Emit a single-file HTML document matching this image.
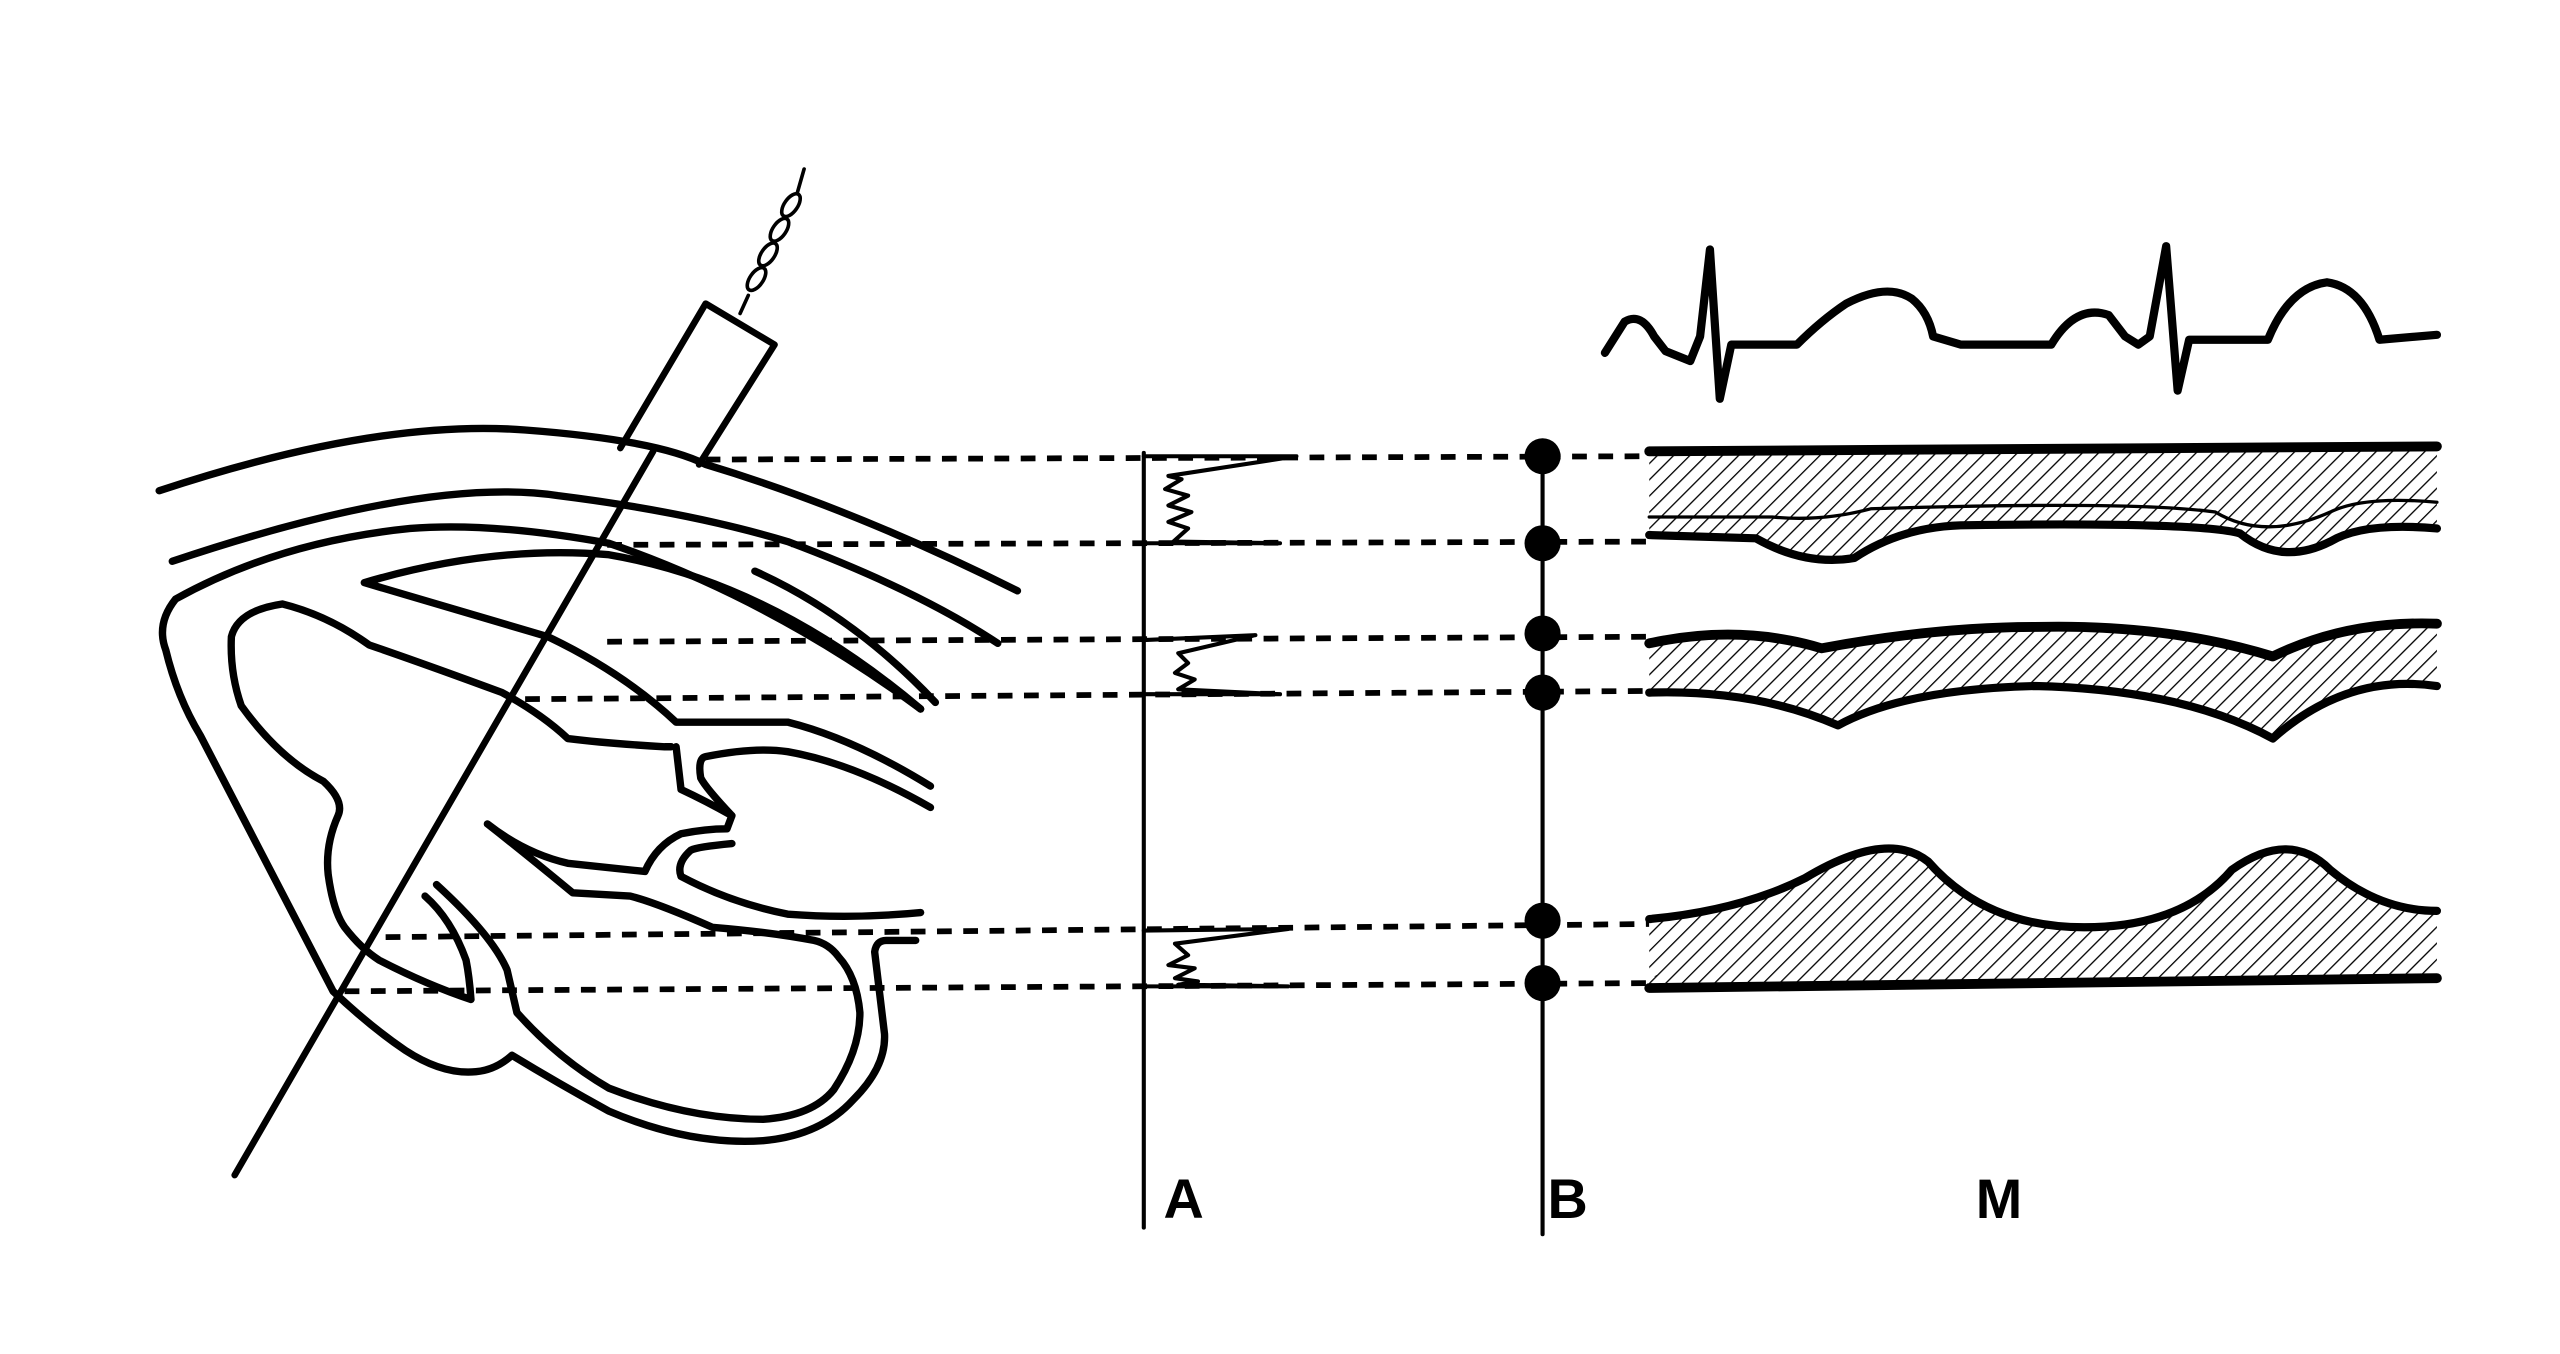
<!DOCTYPE html>
<html><head><meta charset="utf-8"><style>
html,body{margin:0;padding:0;background:#fff;width:2560px;height:1354px;overflow:hidden}
svg{display:block}
</style></head><body>
<svg width="2560" height="1354" viewBox="0 0 1560 825" preserveAspectRatio="none" xmlns="http://www.w3.org/2000/svg">
<defs>
<pattern id="h" width="7" height="7" patternUnits="userSpaceOnUse" patternTransform="rotate(45)">
<rect width="7" height="7" fill="#fff"/><line x1="0" y1="0" x2="0" y2="7" stroke="#000" stroke-width="1.6"/>
</pattern>
</defs>
<g fill="none" stroke="#000" stroke-linecap="round" stroke-linejoin="round">
<!-- ECG -->
<path d="M978,215 L990,196 Q1000,190 1008,205 L1015,214 L1030,220 L1036,205 L1042,152 L1048,243 L1055,210 L1095,210 Q1110,195 1125,185 Q1150,172 1165,182 Q1175,190 1178,205 L1195,210 L1250,210 Q1265,185 1285,192 L1295,205 L1303,210 L1310,205 L1320,150 L1327,238 L1334,207 L1382,207 Q1395,175 1418,172 Q1440,175 1450,207 L1485,204" stroke-width="5"/>
<!-- probe -->
<path d="M378,273 L430,185 L472,210 L426,283" stroke-width="4"/>
<g stroke-width="2.2">
<path d="M451,191 L456,180"/>
<ellipse cx="461" cy="170" rx="4" ry="8" transform="rotate(35 461 170)"/>
<ellipse cx="468" cy="155" rx="4" ry="8" transform="rotate(35 468 155)"/>
<ellipse cx="475" cy="140" rx="4" ry="8" transform="rotate(35 475 140)"/>
<ellipse cx="482" cy="125" rx="4" ry="8" transform="rotate(35 482 125)"/>
<path d="M486,117 L490,103"/>
</g>
<!-- beam -->
<line x1="398" y1="275" x2="143" y2="716" stroke-width="4"/>
<!-- chest wall -->
<path d="M97,299 Q230,255 320,262 Q400,268 430,283 Q520,310 620,360" stroke-width="4.5"/>
<path d="M105,342 Q260,290 340,302 Q420,312 480,330 Q560,360 608,392" stroke-width="4.5"/>
<!-- outer heart -->
<path d="M561,432 Q470,365 371,331 Q300,318 250,322 Q170,330 107,365 Q95,380 101,396 Q108,425 122,448 L203,604 Q225,625 247,640 Q270,655 290,653 Q302,652 312,643 Q340,660 371,677 Q420,698 465,695 Q500,692 520,670 Q540,650 539,630 L533,580 Q534,573 540,573 L558,573" stroke-width="4.5"/>
<path d="M460,348 Q520,375 570,428" stroke-width="4.5"/>
<!-- RV -->
<path d="M561,432 Q470,355 371,338 Q300,332 222,355 L334,388 Q380,410 412,440 L480,440 Q520,450 567,479" stroke-width="4.5"/>
<!-- LV wall / septum -->
<path d="M409,455 L405,455 Q370,453 346,450 Q330,435 306,422 Q260,405 225,393 Q200,375 172,368 Q145,372 141,388 Q140,410 147,430 Q170,462 197,476 Q210,488 206,497 Q198,515 200,533 Q203,555 210,565 Q220,578 231,585 Q260,600 287,609 Q286,595 284,585 Q275,560 259,546" stroke-width="4.5"/>
<path d="M266,539 Q300,570 309,591 L315,617 Q340,645 371,663 Q420,682 465,682 Q495,680 508,664 Q524,640 524,617 Q522,595 511,583 Q505,575 496,573 Q470,568 434,565 Q400,550 384,546 L349,544 Q320,520 297,502 Q320,520 346,526 L393,531 Q400,515 415,508 Q430,505 443,505 L446,497 Q430,488 415,481 L412,455" stroke-width="4.5"/>
<path d="M446,497 Q430,480 427,474 Q425,462 430,461 Q460,455 480,458 Q520,465 567,492" stroke-width="4.5"/>
<path d="M446,514 Q425,516 421,518 Q412,526 415,534 Q445,550 480,557 Q520,560 561,556" stroke-width="4.5"/>
<!-- dashed lines -->
<g stroke-width="3.5" stroke-dasharray="9,7" stroke-linecap="butt">
<line x1="430" y1="280" x2="1005" y2="278"/>
<line x1="370" y1="332" x2="1005" y2="330"/>
<line x1="370" y1="391" x2="1005" y2="388"/>
<line x1="320" y1="426" x2="1005" y2="421"/>
<line x1="235" y1="571" x2="1005" y2="563"/>
<line x1="210" y1="604" x2="1005" y2="599"/>
</g>
<!-- A and B axes -->
<line x1="697" y1="276" x2="697" y2="748" stroke-width="2.5"/>
<line x1="940" y1="270" x2="940" y2="752" stroke-width="2.5"/>
<!-- A spikes -->
<path d="M697,278 L790,278 L712,290 L720,292 L710,298 L724,302 L712,308 L726,312 L712,318 L724,322 L715,330 L780,331 L697,331" stroke-width="2.5"/>
<path d="M697,390 L765,387 L718,398 L724,404 L716,410 L728,414 L718,420 L780,423 L697,423" stroke-width="2.5"/>
<path d="M697,567 L785,566 L716,575 L724,582 L712,588 L728,590 L716,596 L730,598 L718,600 L785,601 L697,601" stroke-width="2.5"/>
</g>
<!-- B dots -->
<g fill="#000">
<circle cx="940" cy="278" r="11"/><circle cx="940" cy="331" r="11"/>
<circle cx="940" cy="386" r="11"/><circle cx="940" cy="422" r="11"/>
<circle cx="940" cy="561" r="11"/><circle cx="940" cy="599" r="11"/>
</g>
<!-- M-mode bands -->
<g stroke="#000" stroke-linejoin="round" stroke-linecap="round">
<path d="M1005,275 L1485,272 L1485,322 Q1440,318 1420,330 Q1390,345 1365,325 Q1340,318 1200,320 Q1160,320 1130,340 Q1100,345 1070,328 L1005,326 Z" fill="url(#h)" stroke="none"/>
<line x1="1005" y1="275" x2="1485" y2="272" stroke-width="6"/>
<path d="M1005,326 L1070,328 Q1100,345 1130,340 Q1160,320 1200,320 Q1340,318 1365,325 Q1390,345 1420,330 Q1440,318 1485,322" fill="none" stroke-width="5"/>
<path d="M1005,315 L1080,315 Q1110,318 1140,310 Q1300,305 1350,312 Q1380,330 1420,312 Q1440,302 1485,306" fill="none" stroke-width="2"/>
<path d="M1005,392 Q1060,380 1110,395 Q1180,382 1240,382 Q1320,380 1385,400 Q1430,378 1485,380 L1485,418 Q1430,410 1385,450 Q1330,420 1240,418 Q1160,420 1120,442 Q1070,420 1005,422 Z" fill="url(#h)" stroke="none"/>
<path d="M1005,392 Q1060,380 1110,395 Q1180,382 1240,382 Q1320,380 1385,400 Q1430,378 1485,380" fill="none" stroke-width="6"/>
<path d="M1005,422 Q1070,420 1120,442 Q1160,420 1240,418 Q1330,420 1385,450 Q1430,410 1485,418" fill="none" stroke-width="5"/>
<path d="M1005,560 Q1060,555 1100,535 Q1150,505 1175,525 Q1210,565 1270,565 Q1330,565 1360,530 Q1395,505 1420,530 Q1450,555 1485,555 L1485,596 L1005,602 Z" fill="url(#h)" stroke="none"/>
<path d="M1005,560 Q1060,555 1100,535 Q1150,505 1175,525 Q1210,565 1270,565 Q1330,565 1360,530 Q1395,505 1420,530 Q1450,555 1485,555" fill="none" stroke-width="5"/>
<line x1="1005" y1="602" x2="1485" y2="596" stroke-width="6"/>
</g>
<g font-family="Liberation Sans, sans-serif" font-weight="bold" font-size="34" fill="#000">
<text x="709" y="742">A</text>
<text x="943" y="742">B</text>
<text x="1204" y="742">M</text>
</g>
</svg>
</body></html>
